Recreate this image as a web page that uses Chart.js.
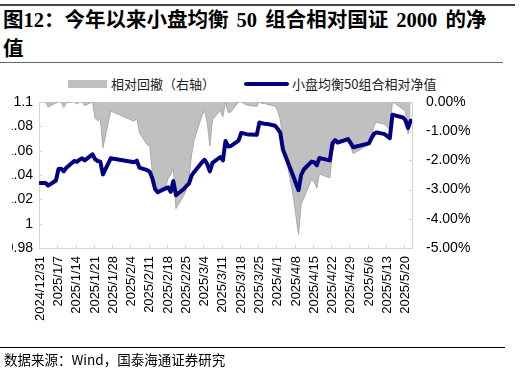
<!DOCTYPE html>
<html><head><meta charset="utf-8">
<script src="https://cdn.jsdelivr.net/npm/chart.js@4.4.1/dist/chart.umd.min.js"></script>
<style>
html,body{margin:0;padding:0;background:#fff;}
body{width:521px;height:377px;overflow:hidden;position:relative;}
#cv{position:absolute;left:0;top:0;clip-path:inset(0 0 0 12px);}
.abs{position:absolute;}
#title{left:3px;top:6px;font-family:"Liberation Serif","Noto Sans CJK SC";font-weight:bold;font-size:20.5px;line-height:29px;color:#000;white-space:nowrap;word-spacing:3px;}
.leg{font-family:"Noto Sans CJK SC","Liberation Sans";font-size:13px;color:#222;line-height:16px;white-space:nowrap;}
#foot{left:4px;top:349px;font-family:"Noto Sans CJK SC","Liberation Sans";font-size:13.5px;line-height:20px;color:#000;white-space:nowrap;}
</style></head>
<body>
<div class="abs" style="left:0;top:4px;width:515px;height:2px;background:#444;"></div>
<div id="title" class="abs">图12：今年以来小盘均衡 50 组合相对国证 2000 的净<br>值</div>
<div class="abs" style="left:0;top:62px;width:503px;height:1px;background:#666;"></div>
<div class="abs" style="left:68px;top:80px;width:39px;height:8px;background:#bfbfbf;"></div>
<div class="abs leg" style="left:111px;top:76px;">相对回撤（右轴）</div>
<div class="abs" style="left:244px;top:82px;width:45px;height:4px;background:#000080;border-radius:2px;"></div>
<div class="abs leg" style="left:292px;top:76px;">小盘均衡50组合相对净值</div>
<canvas id="cv" width="521" height="377"></canvas>
<div class="abs" style="left:0;top:347px;width:505px;height:1px;background:#000;"></div>
<div id="foot" class="abs">数据来源：Wind，国泰海通证券研究</div>
<script>
const tradeDates = ['2024/12/31','2025/1/2','2025/1/3','2025/1/6','2025/1/7','2025/1/8','2025/1/9','2025/1/10',
'2025/1/13','2025/1/14','2025/1/15','2025/1/16','2025/1/17','2025/1/20','2025/1/21','2025/1/22','2025/1/23','2025/1/24',
'2025/1/27','2025/2/5','2025/2/6','2025/2/7','2025/2/10','2025/2/11','2025/2/12','2025/2/13','2025/2/14',
'2025/2/17','2025/2/18','2025/2/19','2025/2/20','2025/2/21','2025/2/24','2025/2/25','2025/2/26','2025/2/27','2025/2/28',
'2025/3/3','2025/3/4','2025/3/5','2025/3/6','2025/3/7','2025/3/10','2025/3/11','2025/3/12','2025/3/13','2025/3/14',
'2025/3/17','2025/3/18','2025/3/19','2025/3/20','2025/3/21','2025/3/24','2025/3/25','2025/3/26','2025/3/27','2025/3/28',
'2025/3/31','2025/4/1','2025/4/2','2025/4/3','2025/4/7','2025/4/8','2025/4/9','2025/4/10','2025/4/11',
'2025/4/14','2025/4/15','2025/4/16','2025/4/17','2025/4/18','2025/4/21','2025/4/22','2025/4/23','2025/4/24','2025/4/25',
'2025/4/28','2025/4/29','2025/4/30','2025/5/6','2025/5/7','2025/5/8','2025/5/9','2025/5/12','2025/5/13','2025/5/14','2025/5/15','2025/5/16',
'2025/5/19','2025/5/20','2025/5/21','2025/5/22'];
const navValues = [1.0334,1.0334,1.0313,1.0355,1.0450,1.0452,1.0430,1.0460,
1.0515,1.0508,1.0526,1.0537,1.0520,1.0570,1.0530,1.0515,1.0510,1.0405,
1.0537,1.0505,1.0518,1.0460,1.0440,1.0425,1.0370,1.0285,1.0258,
1.0290,1.0298,1.0262,1.0350,1.0234,1.0285,1.0310,1.0330,1.0395,1.0425,
1.0505,1.0525,1.0490,1.0430,1.0500,1.0548,1.0520,1.0680,1.0635,1.0638,
1.0682,1.0745,1.0742,1.0736,1.0732,1.0730,1.0832,1.0825,1.0822,1.0820,
1.0805,1.0780,1.0748,1.0610,1.0390,1.0330,1.0275,1.0400,1.0445,
1.0510,1.0505,1.0480,1.0540,1.0535,1.0520,1.0660,1.0687,1.0668,1.0675,
1.0695,1.0662,1.0628,1.0660,1.0705,1.0740,1.0750,1.0736,1.0720,1.0703,1.0895,1.0890,
1.0873,1.0850,1.0785,1.0846];
const drawdownPct = [0,0,-0.17,-0.03,0,0,-0.19,-0.02,
0,-0.07,0,0,-0.12,0,-0.55,-0.65,-0.55,-1.57,
-0.31,-0.66,-0.55,-1.06,-1.46,-1.52,-2.45,-3.0,-3.16,
-2.94,-2.6,-2.5,-2.25,-3.65,-3.2,-3.0,-2.6,-1.8,-1.3,
-0.45,-0.3,-0.7,-1.5,-0.6,-0.3,-0.5,0,-0.36,-0.34,
0,0,-0.05,-0.1,-0.12,-0.15,0,-0.05,-0.05,-0.08,
-0.14,-0.3,-0.6,-1.3,-3.24,-3.9,-4.55,-3.5,-3.3,
-2.65,-2.75,-2.95,-2.45,-2.5,-2.6,-1.7,-1.39,-1.45,-1.42,
-1.33,-1.55,-1.77,-1.45,-1.1,-0.8,-0.7,-0.76,-0.85,-0.95,0,-0.05,
-0.25,-0.3,-1.1,-0.55];
const xTickLabels = ['2024/12/31','2025/1/7','2025/1/14','2025/1/21','2025/1/28','2025/2/4','2025/2/11','2025/2/18',
'2025/2/25','2025/3/4','2025/3/11','2025/3/18','2025/3/25','2025/4/1','2025/4/8','2025/4/15','2025/4/22','2025/4/29',
'2025/5/6','2025/5/13','2025/5/20'];
const legendNames = ['相对回撤（右轴）','小盘均衡50组合相对净值'];

function dayOffset(s){const p=s.split('/').map(Number);return (Date.UTC(p[0],p[1]-1,p[2])-Date.UTC(2024,11,31))/864e5;}
const xs = tradeDates.map(dayOffset);
const lastDay = xs[xs.length-1];
const xFont = {family:'"Liberation Sans", Arial', size:13};
const yFont = {family:'"Liberation Sans", Arial', size:14};

const innerTicks = {
  id:'innerTicks',
  afterDraw(chart){
    const ctx=chart.ctx, a=chart.chartArea, sx=chart.scales.x, sy=chart.scales.y, sy1=chart.scales.y1;
    ctx.save(); ctx.strokeStyle='#d4d4d4'; ctx.lineWidth=1; ctx.beginPath();
    sx.ticks.forEach(t=>{const p=Math.round(sx.getPixelForValue(t.value-0.5))+0.5; ctx.moveTo(p,a.bottom); ctx.lineTo(p,a.bottom-3);});
    sy.ticks.forEach(t=>{const p=Math.round(sy.getPixelForValue(t.value))+0.5; ctx.moveTo(a.left,p); ctx.lineTo(a.left+3,p);});
    sy1.ticks.forEach(t=>{const p=Math.round(sy1.getPixelForValue(t.value))+0.5; ctx.moveTo(a.right,p); ctx.lineTo(a.right-3,p);});
    ctx.stroke(); ctx.restore();
  }
};

new Chart(document.getElementById('cv'),{
  type:'line',
  data:{datasets:[
    {label:legendNames[1], data:xs.map((x,i)=>({x, y:navValues[i]})), yAxisID:'y', order:0,
     borderColor:'#000080', borderWidth:4, pointRadius:0, tension:0, fill:false, borderJoinStyle:'round', borderCapStyle:'round'},
    {label:legendNames[0], data:xs.map((x,i)=>({x, y:drawdownPct[i]})), yAxisID:'y1', order:1,
     borderColor:'#a9a9a9', borderWidth:1, backgroundColor:'#c0c0c0', pointRadius:0, tension:0, fill:{value:0}}
  ]},
  options:{
    responsive:false, animation:false, events:[],
    layout:{padding:{left:0,right:0,top:102,bottom:0}},
    plugins:{legend:{display:false}, tooltip:{enabled:false}},
    scales:{
      x:{type:'linear', min:-0.5, max:lastDay+0.5,
         afterBuildTicks:s=>{s.ticks=xTickLabels.map(l=>({value:dayOffset(l)}));},
         ticks:{autoSkip:false, maxRotation:90, minRotation:90, padding:8, font:xFont, color:'#000',
                callback:(v,i)=>xTickLabels[i]},
         grid:{display:false, drawTicks:false}, border:{display:true, color:'#d4d4d4'},
         afterFit:s=>{s.height=129;}},
      y:{position:'left', min:0.98, max:1.1,
         ticks:{stepSize:0.02, padding:6, font:yFont, color:'#000', callback:v=>String(Math.round(v*100)/100)},
         grid:{display:false, drawTicks:false}, border:{display:true, color:'#d4d4d4'},
         afterFit:s=>{s.width=39;}},
      y1:{position:'right', min:-5, max:0,
         ticks:{stepSize:1, padding:14, font:yFont, color:'#000', callback:v=>(v===0?0:v).toFixed(2)+'%'},
         grid:{display:false, drawTicks:false}, border:{display:true, color:'#d4d4d4'},
         afterFit:s=>{s.width=109;}}
    }
  },
  plugins:[innerTicks]
});
</script>
</body></html>
